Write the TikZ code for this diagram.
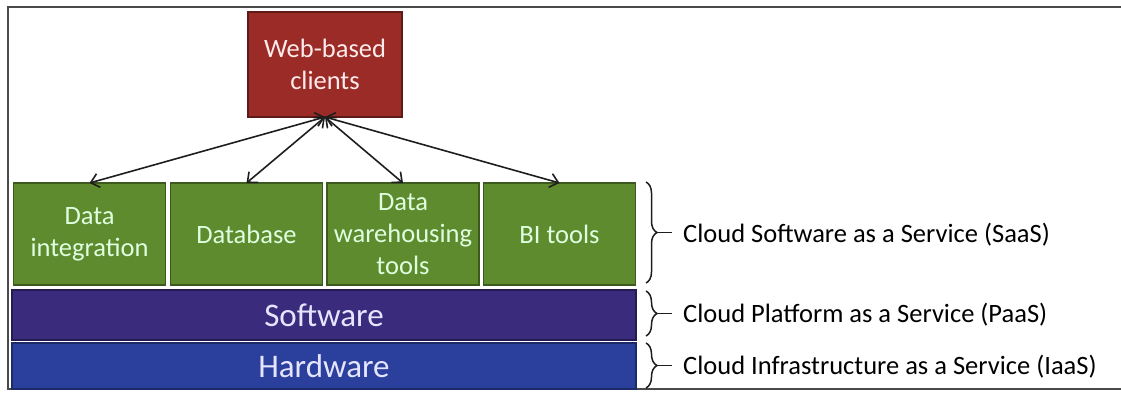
\documentclass[tikz,border=0pt]{standalone}
\usepackage{fontspec}
\setmainfont{Carlito}
\usetikzlibrary{arrows.meta,decorations.pathreplacing}

\definecolor{webred}{HTML}{9A2B26}
\definecolor{webredline}{HTML}{5E1A16}
\definecolor{saasgreen}{HTML}{5F8B2F}
\definecolor{saasline}{HTML}{3C5A1E}
\definecolor{paaspurple}{HTML}{3B2B7C}
\definecolor{paasline}{HTML}{261A52}
\definecolor{iaasblue}{HTML}{2B3F9C}
\definecolor{iaasline}{HTML}{1C2A6A}
\definecolor{framegray}{HTML}{4A4A4A}
\definecolor{inkgray}{HTML}{1E1E1E}

\tikzset{
  layerbox/.style={draw, line width=1.8pt, inner sep=0pt, outer sep=0pt,
    align=center, font=\fontsize{26.5}{32}\selectfont},
  clientbox/.style={layerbox, fill=webred, draw=webredline, text=white!92!red,
    minimum width=154pt, minimum height=105pt},
  toolbox/.style={layerbox, fill=saasgreen, draw=saasline, text=white!88!green,
    minimum width=152pt, minimum height=102pt},
  bandbox/.style={layerbox, minimum width=624pt, font=\fontsize{33}{38}\selectfont},
  link/.style={inkgray, line width=1.6pt,
    {Straight Barb[length=8pt,width=14pt]}-{Straight Barb[length=8pt,width=14pt]}},
  layerbrace/.style={decorate, inkgray, line width=1.5pt,
    decoration={brace, amplitude=11pt, raise=0pt}},
  bracetick/.style={inkgray, line width=1.5pt},
  servicelabel/.style={anchor=west, inner sep=0pt, font=\fontsize{26.5}{32}\selectfont}
}

\begin{document}
\begin{tikzpicture}[x=1pt, y=-1pt]
  \useasboundingbox (0,0) rectangle (1121,392);

  % open frame around the figure
  \draw[framegray, line width=1.8pt] (1121,7) -- (8,7) -- (8,389) -- (1121,389);

  % client tier
  \node[clientbox] (web) at (325,64.5) {Web-based\\clients};

  % SaaS tools
  \node[toolbox] (integ) at (89.5,234) {Data\\integration};
  \node[toolbox] (db)    at (246.5,234) {Database};
  \node[toolbox] (dw)    at (403,234) {Data\\warehousing\\tools};
  \node[toolbox] (bi)    at (559.5,234) {BI tools};

  % platform and infrastructure layers
  \node[bandbox, fill=paaspurple, draw=paasline, text=white!90!blue,
        minimum height=50pt] (sw) at (324,315) {Software};
  \node[bandbox, fill=iaasblue, draw=iaasline, text=white!90!blue,
        minimum height=46pt] (hw) at (324,366) {Hardware};

  % client connections
  \foreach \t in {integ,db,dw,bi}
    \draw[link] (web.south) -- (\t.north);

  % service braces
  \coordinate (sa) at (646,182);  \coordinate (sb) at (646,283);
  \coordinate (pa) at (646,291);  \coordinate (pb) at (646,336);
  \coordinate (ia) at (646,343);  \coordinate (ib) at (646,388);
  \draw[layerbrace] (sa) -- (sb);
  \draw[layerbrace] (pa) -- (pb);
  \draw[layerbrace] (ia) -- (ib);
  \coordinate (st) at (657,232.5); \coordinate (se) at (672,232.5);
  \coordinate (pt) at (657,313.5); \coordinate (pe) at (672,313.5);
  \coordinate (it) at (657,365.5); \coordinate (ie) at (672,365.5);
  \draw[bracetick] (st) -- (se);
  \draw[bracetick] (pt) -- (pe);
  \draw[bracetick] (it) -- (ie);

  \node[servicelabel] (saas) at (683,235) {Cloud Software as a Service (SaaS)};
  \node[servicelabel] (paas) at (683,315) {Cloud Platform as a Service (PaaS)};
  \node[servicelabel] (iaas) at (683,367) {Cloud Infrastructure as a Service (IaaS)};
\end{tikzpicture}
\end{document}
